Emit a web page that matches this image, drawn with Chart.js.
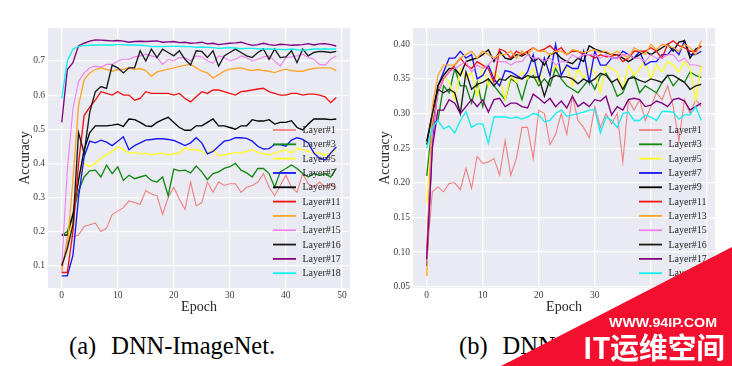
<!DOCTYPE html>
<html><head><meta charset="utf-8">
<script src="https://cdn.jsdelivr.net/npm/chart.js@4.4.1/dist/chart.umd.min.js"></script>
<style>
html,body{margin:0;padding:0;background:#fff;width:732px;height:366px;overflow:hidden;position:relative;font-family:'Liberation Serif',serif}
canvas{position:absolute;top:0}
#c1{left:0}
#c2{left:366px}
.cap{position:absolute;font-family:'Liberation Serif',serif;font-size:24.5px;color:#000;white-space:nowrap;line-height:1}
.cap span{margin-right:15px}
#wm{position:absolute;left:0;top:0}
</style></head><body>
<canvas id="c1" width="366" height="318"></canvas>
<canvas id="c2" width="366" height="318"></canvas>
<div class="cap" style="left:69px;top:334px"><span>(a)</span>DNN-ImageNet.</div>
<div class="cap" style="left:459px;top:334px"><span>(b)</span>DNN-CIFAR10.</div>
<svg id="wm" width="732" height="366">
  <polygon points="501,366 732,366 732,247" fill="#F2102E"/>
  <text x="609" y="327" font-family="Liberation Sans, Arial, sans-serif" font-weight="bold" font-size="12.5" fill="#fff" textLength="108" lengthAdjust="spacingAndGlyphs">WWW.94IP.COM</text>
  <text x="583" y="359" font-family="Noto Sans CJK SC" font-weight="bold" font-size="29" fill="#fff" textLength="142" lengthAdjust="spacingAndGlyphs">IT运维空间</text>
</svg>
<script>
// ---------- categories / ticks ----------
const epochs = [0,1,2,3,4,5,6,7,8,9,10,11,12,13,14,15,16,17,18,19,20,21,22,23,24,25,26,27,28,29,30,31,32,33,34,35,36,37,38,39,40,41,42,43,44,45,46,47,48,49];
const xTickValues = [0,10,20,30,40,50];
const imagenetYTicks = [0.1,0.2,0.3,0.4,0.5,0.6,0.7];
const imagenetYLabels = ['0.1','0.2','0.3','0.4','0.5','0.6','0.7'];
const cifarYTicks = [0.05,0.10,0.15,0.20,0.25,0.30,0.35,0.40];
const cifarYLabels = ['0.05','0.10','0.15','0.20','0.25','0.30','0.35','0.40'];
const layerNames = ['Layer#1','Layer#3','Layer#5','Layer#7','Layer#9','Layer#11','Layer#13','Layer#15','Layer#16','Layer#17','Layer#18'];
const layerColors = ['#F08080','#118811','#FFFF22','#1515F5','#000000','#F01515','#FFA530','#EE82EE','#1a1a1a','#800080','#10F0F0'];

// ---------- (a) DNN-ImageNet ----------
const imagenet_L1 = [0.08,0.185,0.185,0.19,0.215,0.22,0.225,0.20,0.21,0.25,0.26,0.27,0.29,0.285,0.28,0.32,0.31,0.305,0.25,0.30,0.33,0.295,0.265,0.345,0.275,0.285,0.345,0.315,0.345,0.335,0.34,0.34,0.315,0.33,0.335,0.345,0.37,0.33,0.305,0.335,0.365,0.33,0.315,0.37,0.34,0.33,0.345,0.33,0.34,0.325];
const imagenet_L3 = [0.19,0.20,0.25,0.32,0.36,0.378,0.38,0.36,0.395,0.37,0.39,0.35,0.365,0.355,0.36,0.365,0.35,0.345,0.36,0.305,0.383,0.378,0.38,0.372,0.392,0.375,0.352,0.37,0.375,0.385,0.39,0.40,0.38,0.372,0.36,0.385,0.385,0.37,0.33,0.375,0.385,0.395,0.385,0.37,0.36,0.37,0.365,0.37,0.36,0.385];
const imagenet_L5 = [0.10,0.15,0.25,0.35,0.40,0.39,0.40,0.415,0.425,0.435,0.448,0.44,0.43,0.432,0.427,0.43,0.425,0.428,0.43,0.425,0.428,0.43,0.445,0.44,0.44,0.435,0.428,0.44,0.422,0.425,0.428,0.432,0.43,0.435,0.44,0.432,0.428,0.425,0.43,0.435,0.44,0.43,0.445,0.44,0.435,0.43,0.43,0.425,0.43,0.44];
const imagenet_L7 = [0.07,0.07,0.13,0.30,0.42,0.465,0.46,0.468,0.462,0.452,0.465,0.478,0.44,0.452,0.46,0.468,0.47,0.472,0.472,0.47,0.467,0.46,0.452,0.46,0.475,0.46,0.428,0.435,0.45,0.465,0.468,0.475,0.475,0.473,0.465,0.45,0.442,0.443,0.455,0.455,0.45,0.468,0.475,0.47,0.46,0.43,0.415,0.41,0.43,0.448];
const imagenet_L9 = [0.19,0.19,0.25,0.35,0.44,0.49,0.51,0.51,0.51,0.512,0.515,0.508,0.53,0.528,0.52,0.51,0.508,0.52,0.528,0.535,0.52,0.505,0.497,0.497,0.51,0.51,0.52,0.53,0.51,0.51,0.505,0.50,0.51,0.51,0.528,0.524,0.524,0.528,0.515,0.52,0.52,0.525,0.505,0.498,0.515,0.53,0.53,0.53,0.528,0.53];
const imagenet_L11 = [0.08,0.08,0.20,0.40,0.54,0.565,0.585,0.61,0.605,0.60,0.61,0.60,0.60,0.585,0.59,0.61,0.605,0.605,0.605,0.605,0.60,0.605,0.59,0.58,0.595,0.61,0.605,0.615,0.615,0.61,0.605,0.60,0.61,0.612,0.615,0.618,0.62,0.61,0.605,0.60,0.60,0.605,0.605,0.60,0.603,0.603,0.60,0.595,0.578,0.593];
const imagenet_L13 = [0.09,0.16,0.35,0.57,0.645,0.665,0.675,0.68,0.675,0.67,0.675,0.675,0.68,0.675,0.678,0.672,0.655,0.668,0.672,0.676,0.68,0.684,0.687,0.69,0.68,0.67,0.665,0.65,0.66,0.67,0.676,0.678,0.68,0.675,0.672,0.675,0.672,0.67,0.666,0.672,0.676,0.672,0.67,0.67,0.675,0.678,0.68,0.68,0.68,0.672];
const imagenet_L15 = [0.10,0.38,0.56,0.64,0.665,0.68,0.685,0.682,0.69,0.69,0.70,0.705,0.705,0.712,0.715,0.72,0.715,0.71,0.69,0.705,0.70,0.71,0.71,0.70,0.715,0.712,0.70,0.694,0.715,0.71,0.70,0.705,0.715,0.71,0.70,0.705,0.712,0.715,0.70,0.685,0.71,0.712,0.715,0.72,0.71,0.705,0.69,0.688,0.705,0.715];
const imagenet_L16 = [0.10,0.15,0.22,0.49,0.43,0.55,0.61,0.625,0.62,0.688,0.68,0.665,0.68,0.68,0.73,0.70,0.735,0.71,0.735,0.725,0.715,0.73,0.705,0.688,0.73,0.728,0.71,0.73,0.685,0.715,0.725,0.735,0.725,0.715,0.71,0.725,0.735,0.705,0.735,0.71,0.712,0.73,0.695,0.735,0.715,0.725,0.728,0.727,0.725,0.728];
const imagenet_L17 = [0.52,0.675,0.695,0.745,0.752,0.758,0.762,0.761,0.760,0.759,0.760,0.758,0.755,0.757,0.758,0.757,0.758,0.759,0.755,0.756,0.757,0.754,0.755,0.752,0.753,0.755,0.750,0.752,0.748,0.750,0.752,0.753,0.755,0.750,0.746,0.748,0.752,0.748,0.746,0.749,0.748,0.746,0.747,0.748,0.751,0.747,0.750,0.751,0.748,0.744];
const imagenet_L18 = [0.59,0.70,0.735,0.743,0.745,0.746,0.747,0.747,0.747,0.747,0.748,0.748,0.747,0.747,0.746,0.745,0.742,0.743,0.742,0.743,0.743,0.743,0.742,0.742,0.74,0.741,0.74,0.739,0.737,0.738,0.739,0.738,0.736,0.737,0.737,0.736,0.735,0.736,0.735,0.734,0.733,0.735,0.733,0.732,0.733,0.735,0.735,0.736,0.735,0.735];

// ---------- (b) DNN-CIFAR ----------
const cifar_L1 = [0.09,0.187,0.194,0.187,0.199,0.20,0.19,0.221,0.192,0.238,0.228,0.23,0.235,0.211,0.261,0.211,0.235,0.28,0.28,0.235,0.305,0.30,0.255,0.27,0.30,0.27,0.325,0.29,0.28,0.265,0.31,0.28,0.30,0.285,0.30,0.23,0.32,0.305,0.32,0.29,0.31,0.33,0.32,0.34,0.31,0.26,0.32,0.30,0.32,0.31];
const cifar_L3 = [0.21,0.285,0.29,0.34,0.33,0.365,0.34,0.34,0.315,0.345,0.31,0.35,0.34,0.33,0.32,0.35,0.345,0.32,0.35,0.355,0.34,0.35,0.34,0.365,0.35,0.34,0.335,0.33,0.34,0.35,0.335,0.355,0.358,0.345,0.325,0.33,0.35,0.355,0.33,0.34,0.335,0.33,0.345,0.355,0.34,0.35,0.345,0.36,0.355,0.352];
const cifar_L5 = [0.17,0.28,0.34,0.355,0.345,0.32,0.365,0.35,0.36,0.325,0.37,0.34,0.36,0.35,0.32,0.355,0.345,0.36,0.35,0.365,0.345,0.375,0.355,0.37,0.36,0.37,0.34,0.365,0.35,0.365,0.36,0.33,0.37,0.365,0.36,0.335,0.37,0.355,0.365,0.375,0.35,0.37,0.36,0.375,0.37,0.36,0.375,0.365,0.32,0.37];
const cifar_L7 = [0.08,0.26,0.34,0.36,0.38,0.38,0.39,0.38,0.385,0.35,0.355,0.37,0.35,0.34,0.362,0.36,0.355,0.35,0.36,0.385,0.35,0.38,0.355,0.40,0.355,0.37,0.365,0.365,0.39,0.345,0.39,0.37,0.37,0.38,0.38,0.39,0.385,0.38,0.39,0.37,0.375,0.375,0.385,0.385,0.395,0.385,0.405,0.385,0.385,0.39];
const cifar_L9 = [0.26,0.30,0.34,0.355,0.365,0.365,0.355,0.375,0.378,0.38,0.385,0.392,0.375,0.39,0.38,0.378,0.385,0.383,0.388,0.375,0.38,0.37,0.385,0.388,0.38,0.375,0.372,0.38,0.375,0.398,0.393,0.39,0.388,0.385,0.385,0.38,0.375,0.38,0.385,0.39,0.385,0.39,0.395,0.40,0.39,0.403,0.405,0.38,0.393,0.397];
const cifar_L11 = [0.10,0.28,0.33,0.35,0.36,0.37,0.38,0.37,0.365,0.375,0.37,0.365,0.345,0.393,0.39,0.38,0.39,0.385,0.39,0.395,0.39,0.393,0.398,0.39,0.395,0.385,0.39,0.39,0.385,0.385,0.38,0.385,0.382,0.383,0.385,0.375,0.38,0.39,0.39,0.39,0.395,0.39,0.38,0.40,0.405,0.398,0.395,0.39,0.39,0.398];
const cifar_L13 = [0.065,0.31,0.355,0.37,0.37,0.37,0.38,0.385,0.39,0.38,0.39,0.385,0.38,0.385,0.385,0.39,0.38,0.39,0.385,0.395,0.39,0.39,0.385,0.39,0.39,0.385,0.392,0.39,0.388,0.39,0.392,0.388,0.39,0.385,0.39,0.385,0.38,0.395,0.39,0.385,0.40,0.392,0.40,0.398,0.395,0.39,0.40,0.395,0.385,0.405];
const cifar_L15 = [0.09,0.27,0.33,0.35,0.36,0.365,0.37,0.375,0.36,0.37,0.365,0.37,0.38,0.375,0.375,0.37,0.375,0.375,0.385,0.38,0.38,0.375,0.38,0.37,0.375,0.375,0.385,0.38,0.385,0.385,0.385,0.38,0.385,0.38,0.38,0.385,0.385,0.38,0.38,0.375,0.385,0.38,0.38,0.385,0.385,0.375,0.38,0.37,0.37,0.368];
const cifar_L16 = [0.255,0.30,0.335,0.33,0.335,0.33,0.30,0.36,0.335,0.342,0.345,0.35,0.34,0.35,0.348,0.355,0.352,0.35,0.355,0.352,0.353,0.325,0.35,0.355,0.353,0.353,0.35,0.343,0.35,0.345,0.35,0.358,0.355,0.345,0.35,0.335,0.35,0.352,0.348,0.345,0.35,0.348,0.345,0.355,0.355,0.35,0.345,0.335,0.34,0.342];
const cifar_L17 = [0.09,0.25,0.305,0.305,0.32,0.315,0.30,0.31,0.32,0.31,0.32,0.302,0.32,0.322,0.31,0.315,0.315,0.31,0.308,0.328,0.322,0.315,0.322,0.31,0.318,0.308,0.325,0.31,0.316,0.31,0.32,0.318,0.325,0.298,0.31,0.305,0.32,0.322,0.32,0.31,0.312,0.318,0.315,0.31,0.32,0.322,0.318,0.305,0.31,0.315];
const cifar_L18 = [0.25,0.28,0.29,0.278,0.282,0.272,0.29,0.303,0.28,0.285,0.285,0.257,0.295,0.295,0.295,0.293,0.295,0.292,0.295,0.30,0.298,0.288,0.29,0.30,0.305,0.296,0.298,0.30,0.302,0.305,0.306,0.272,0.295,0.29,0.28,0.30,0.302,0.29,0.29,0.298,0.295,0.29,0.303,0.303,0.302,0.292,0.298,0.298,0.31,0.29];

const imagenetSeries = [imagenet_L1,imagenet_L3,imagenet_L5,imagenet_L7,imagenet_L9,imagenet_L11,imagenet_L13,imagenet_L15,imagenet_L16,imagenet_L17,imagenet_L18];
const cifarSeries = [cifar_L1,cifar_L3,cifar_L5,cifar_L7,cifar_L9,cifar_L11,cifar_L13,cifar_L15,cifar_L16,cifar_L17,cifar_L18];

// ---------- rendering ----------
const FONT = 'Liberation Serif';
const bgPlugin = {
  id:'seabornBg',
  beforeDraw(chart){
    const {ctx, chartArea:a} = chart;
    ctx.save(); ctx.fillStyle = '#EAEAF2';
    ctx.fillRect(a.left, a.top, a.right-a.left, a.bottom-a.top);
    ctx.restore();
  }
};
const legendPlugin = {
  id:'innerLegend',
  afterDatasetsDraw(chart, args, opts){
    const ctx = chart.ctx;
    ctx.save();
    ctx.font = '10px "' + FONT + '"';
    ctx.textBaseline = 'middle';
    ctx.textAlign = 'left';
    chart.data.datasets.forEach((ds,i)=>{
      const y = opts.y0 + i*opts.dy;
      ctx.strokeStyle = ds.borderColor; ctx.lineWidth = 1.8;
      ctx.beginPath(); ctx.moveTo(opts.x1,y); ctx.lineTo(opts.x2,y); ctx.stroke();
      ctx.fillStyle = '#262626';
      ctx.fillText(ds.label, opts.tx, y+0.5);
    });
    ctx.restore();
  }
};

function makeChart(id, series, yTicks, yLabels, yMin, yMax, yAxisWidth, yTitlePad, rightPad){
  const n = series.length;
  const datasets = series.map((vals,i)=>({
    label: layerNames[i],
    data: vals.map((v,k)=>({x: epochs[k], y: v})),
    borderColor: layerColors[i],
    borderWidth: (i===0||i===7) ? 1.1 : 1.35,
    pointRadius: 0,
    tension: 0,
    fill: false,
    order: n-1-i
  }));
  return new Chart(document.getElementById(id), {
    type:'line',
    data:{datasets},
    options:{
      responsive:false, animation:false, devicePixelRatio:1,
      layout:{padding:{left:0, top:28, right:rightPad, bottom:0}},
      plugins:{legend:{display:false}, tooltip:{enabled:false},
        innerLegend:{x1:273, x2:296, tx:302.5, y0:130, dy:14.32}},
      scales:{
        x:{type:'linear', min:-2.45, max:51.45,
          afterBuildTicks: s => { s.ticks = xTickValues.map(v=>({value:v})); },
          afterFit: s => { s.height = 30; },
          ticks:{color:'#3a3a3a', font:{family:FONT, size:9.5}, padding:2, maxRotation:0,
            callback: v => String(v)},
          grid:{color:'#ffffff', lineWidth:1.2, drawTicks:false},
          border:{display:false},
          title:{display:true, text:'Epoch', color:'#262626', font:{family:FONT, size:14}, padding:{top:0,bottom:2.5}}
        },
        y:{type:'linear', min:yMin, max:yMax,
          afterBuildTicks: s => { s.ticks = yTicks.map(v=>({value:v})); },
          afterFit: s => { s.width = yAxisWidth; },
          ticks:{color:'#3a3a3a', font:{family:FONT, size:9.5}, padding:3,
            callback: (v,idx) => yLabels[idx]},
          grid:{color:'#ffffff', lineWidth:1.2, drawTicks:false},
          border:{display:false},
          title:{display:true, text:'Accuracy', color:'#262626', font:{family:FONT, size:14}, padding:{top:yTitlePad,bottom:0}}
        }
      }
    },
    plugins:[bgPlugin, legendPlugin]
  });
}

makeChart('c1', imagenetSeries, imagenetYTicks, imagenetYLabels, 0.0346, 0.7967, 48, 16.5, 16);
makeChart('c2', cifarSeries, cifarYTicks, cifarYLabels, 0.0481, 0.4235, 47, 10.5, 17);
</script>
</body></html>
